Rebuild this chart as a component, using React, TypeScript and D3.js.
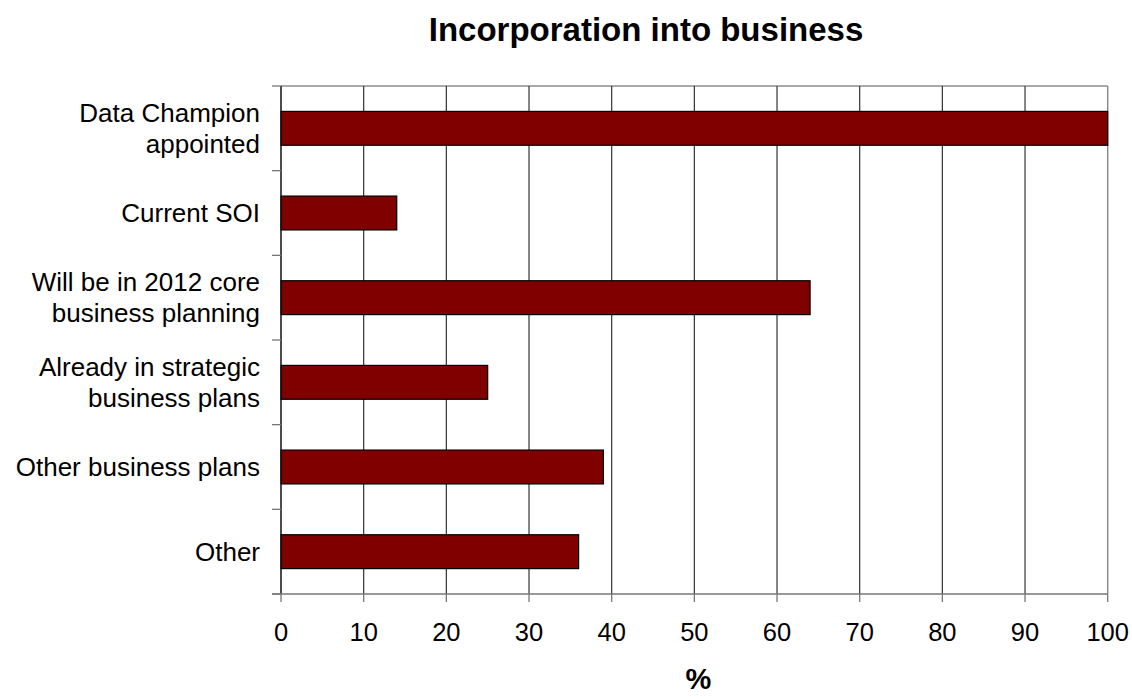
import React from "react";
import * as d3 from "d3";

const categories: string[][] = [
  ["Data Champion", "appointed"],
  ["Current SOI"],
  ["Will be in 2012 core", "business planning"],
  ["Already in strategic", "business plans"],
  ["Other business plans"],
  ["Other"],
];
const values: number[] = [100, 14, 64, 25, 39, 36];
const xTicks: number[] = [0, 10, 20, 30, 40, 50, 60, 70, 80, 90, 100];
const title = "Incorporation into business";
const xTitle = "%";

const W = 1132;
const H = 697;
const FONT = "Liberation Sans, Arial, Helvetica, sans-serif";

export default function App() {
  const left = 281,
    right = 1107.7,
    top = 86,
    bottom = 594;
  const x = d3.scaleLinear().domain([0, 100]).range([left, right]);
  const keys = categories.map((c) => c.join(" "));
  const y = d3
    .scaleBand<string>()
    .domain(keys)
    .range([top, bottom])
    .paddingInner(0.6)
    .paddingOuter(0.3);
  const step = y.step();
  const boundaries = d3.range(keys.length + 1).map((i) => top + i * step);
  const fs = 26;
  const tickFs = 25.5;
  const lineH = 31;

  return (
    <svg
      width={W}
      height={H}
      style={{ position: "absolute", left: 0, top: 0, background: "#fff" }}
      fontFamily={FONT}
    >
      <rect x={0} y={0} width={W} height={H} fill="#fff" />
      <text
        x={646}
        y={40.5}
        textAnchor="middle"
        fontWeight="bold"
        fontSize={33}
        fill="#000"
      >
        {title}
      </text>
      {/* plot frame top/right */}
      <line x1={left} x2={right} y1={top} y2={top} stroke="#8c8c8c" strokeWidth={1.5} />
      <line x1={right} x2={right} y1={top} y2={bottom} stroke="#8c8c8c" strokeWidth={1.5} />
      {/* gridlines */}
      {xTicks
        .filter((t) => t > 0 && t < 100)
        .map((t) => (
          <line
            key={"g" + t}
            x1={x(t)}
            x2={x(t)}
            y1={top}
            y2={bottom}
            stroke="#333"
            strokeWidth={1.2}
          />
        ))}
      {/* bars */}
      {keys.map((k, i) => (
        <rect
          key={k}
          x={x(0)}
          y={y(k)}
          width={x(values[i]) - x(0)}
          height={y.bandwidth()}
          fill="#800000"
          stroke="#000"
          strokeWidth={1.2}
        />
      ))}
      {/* y axis */}
      <line x1={left} x2={left} y1={top} y2={bottom} stroke="#111" strokeWidth={1.5} />
      {boundaries.map((b, i) => (
        <line key={"yt" + i} x1={left - 9} x2={left} y1={b} y2={b} stroke="#777" strokeWidth={1.3} />
      ))}
      {/* x axis */}
      <line x1={left - 9} x2={right} y1={bottom} y2={bottom} stroke="#777" strokeWidth={1.5} />
      {xTicks.map((t) => (
        <g key={"xt" + t}>
          <line x1={x(t)} x2={x(t)} y1={bottom} y2={bottom + 8} stroke="#777" strokeWidth={1.3} />
          <text x={x(t)} y={641} textAnchor="middle" fontSize={tickFs} fill="#000">
            {t}
          </text>
        </g>
      ))}
      {/* category labels */}
      {categories.map((lines, i) => {
        const c = (y(keys[i]) as number) + y.bandwidth() / 2;
        const base = c + 9 - ((lines.length - 1) * lineH) / 2;
        return (
          <text key={"yl" + i} textAnchor="end" fontSize={fs} fill="#000">
            {lines.map((ln, j) => (
              <tspan key={j} x={260} y={base + j * lineH}>
                {ln}
              </tspan>
            ))}
          </text>
        );
      })}
      <text
        x={(left + right) / 2 + 4}
        y={689}
        textAnchor="middle"
        fontWeight="bold"
        fontSize={29}
        fill="#000"
      >
        {xTitle}
      </text>
    </svg>
  );
}
